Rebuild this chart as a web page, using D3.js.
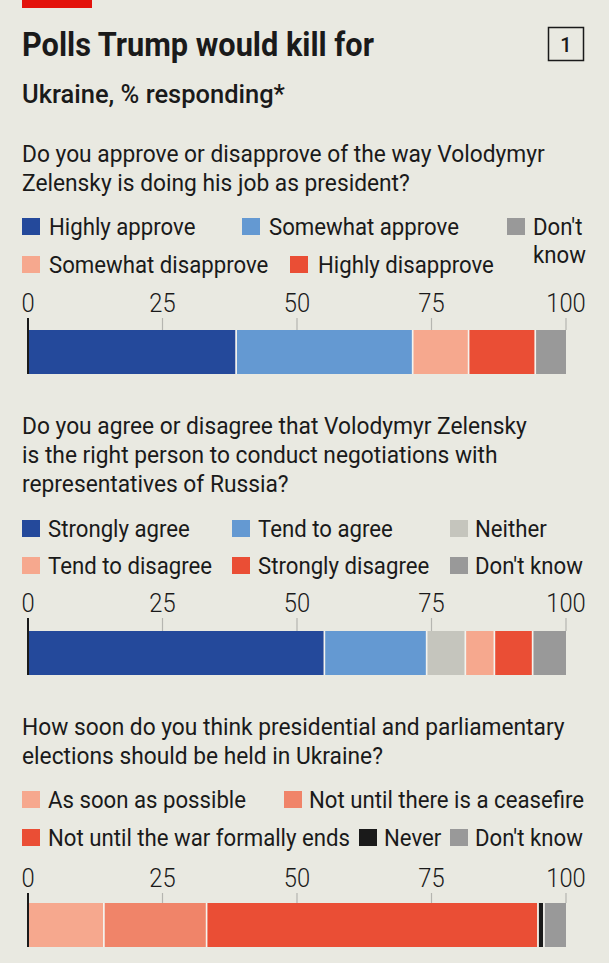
<!DOCTYPE html>
<html><head><meta charset="utf-8">
<script src="https://cdn.jsdelivr.net/npm/d3@7"></script>
<style>html,body{margin:0;padding:0;background:#e9e9e1;}svg{display:block;}</style>
</head><body>
<script>
// ---------- DATA ----------
const title = "Polls Trump would kill for";
const subtitle = "Ukraine, % responding*";
const chartNumber = "1";
const ticks = [0, 25, 50, 75, 100];

const q1Question = ["Do you approve or disapprove of the way Volodymyr", "Zelensky is doing his job as president?"];
const q1Categories = ["Highly approve", "Somewhat approve", "Somewhat disapprove", "Highly disapprove", "Don't know"];
const q1Values = [38.6, 32.8, 10.4, 12.4, 5.8];

const q2Question = ["Do you agree or disagree that Volodymyr Zelensky", "is the right person to conduct negotiations with", "representatives of Russia?"];
const q2Categories = ["Strongly agree", "Tend to agree", "Neither", "Tend to disagree", "Strongly disagree", "Don't know"];
const q2Values = [55.0, 19.0, 7.2, 5.4, 7.1, 6.3];

const q3Question = ["How soon do you think presidential and parliamentary", "elections should be held in Ukraine?"];
const q3Categories = ["As soon as possible", "Not until there is a ceasefire", "Not until the war formally ends", "Never", "Don't know"];
const q3Values = [14.0, 19.1, 61.6, 1.1, 4.2];

// ---------- STYLE ----------
const q1Colors = ["#24499b", "#6499d2", "#f6a88e", "#ea4e35", "#999999"];
const q2Colors = ["#24499b", "#6499d2", "#c5c5bd", "#f6a88e", "#ea4e35", "#999999"];
const q3Colors = ["#f6a88e", "#f08469", "#ea4e35", "#1a1a1a", "#999999"];

const W = 609, H = 963, BG = "#e9e9e1", INK = "#1a1a1a";
const FONT = "Roboto, 'Liberation Sans', sans-serif";

const svg = d3.select("body").append("svg").attr("width", W).attr("height", H);
svg.append("rect").attr("width", W).attr("height", H).attr("fill", BG);

function measure(str, size, weight) {
  const t = svg.append("text").attr("font-family", FONT).attr("font-size", size).attr("font-weight", weight).text(str);
  const w = t.node().getComputedTextLength(); t.remove(); return w;
}
const BODY = 24;
const cond = 523 / measure(q1Question[0], BODY, 400);
const legCond = cond * 0.975;
const titleCond = 352 / measure(title, 33, 700);
const subCond = 263 / measure(subtitle, 26, 500);

function txt(str, x, y, opt = {}) {
  const f = opt.f ?? cond;
  return svg.append("text")
    .attr("transform", `translate(${x},${y}) scale(${f},1)`)
    .attr("font-family", FONT)
    .attr("font-size", opt.size ?? BODY)
    .attr("font-weight", opt.weight ?? 400)
    .attr("text-anchor", opt.anchor ?? "start")
    .attr("fill", opt.fill ?? INK)
    .text(str);
}

// header
svg.append("rect").attr("x", 22).attr("y", 0).attr("width", 70).attr("height", 8).attr("fill", "#e3120b");
txt(title, 22, 56, {size: 33, weight: 700, f: titleCond});
svg.append("rect").attr("x", 548.5).attr("y", 27.5).attr("width", 35).attr("height", 33)
  .attr("fill", "none").attr("stroke", INK).attr("stroke-width", 1.5);
txt(chartNumber, 566, 52, {size: 21, anchor: "middle", weight: 500});
txt(subtitle, 22, 103, {size: 26, weight: 500, f: subCond});

const x = d3.scaleLinear().domain([0, 100]).range([28, 566]);

function panel(question, cats, vals, colors, L) {
  question.forEach((q, i) => txt(q, 22, L.q[i]));
  cats.forEach((c, i) => {
    const it = L.legend[i];
    svg.append("rect").attr("x", it[0]).attr("y", it[1] - 17).attr("width", 18).attr("height", 17).attr("fill", colors[i]);
    const lines = it[3] ? it[3] : [c];
    lines.forEach((ln, j) => txt(ln, it[2], it[1] + j * 28, {f: legCond}));
  });
  ticks.forEach(t => txt(String(t), x(t), L.axis, {anchor: "middle", size: 25, weight: 300}));
  ticks.filter(t => t > 0).forEach(t => {
    svg.append("line").attr("x1", x(t)).attr("x2", x(t)).attr("y1", L.axis + 6).attr("y2", L.bar)
      .attr("stroke", "#b5b5b0").attr("stroke-width", 1.2);
  });
  let acc = 0;
  const segs = vals.map((v, i) => { const s = {start: acc, end: acc + v, i}; acc += v; return s; });
  svg.selectAll(null).data(segs).enter().append("rect")
    .attr("x", d => x(d.start) + (d.i ? 1 : 0))
    .attr("y", L.bar)
    .attr("width", d => Math.max(0.5, x(d.end) - x(d.start) - (d.i ? 1 : 0)))
    .attr("height", 44)
    .attr("fill", d => colors[d.i]);
  svg.selectAll(null).data(segs.slice(1)).enter().append("line")
    .attr("x1", d => x(d.start) + 0.5).attr("x2", d => x(d.start) + 0.5)
    .attr("y1", L.bar).attr("y2", L.bar + 44)
    .attr("stroke", "#f4f3ee").attr("stroke-width", 1.6);
  svg.append("line").attr("x1", x(0)).attr("x2", x(0)).attr("y1", L.axis + 6).attr("y2", L.bar + 44)
    .attr("stroke", INK).attr("stroke-width", 2);
}

panel(q1Question, q1Categories, q1Values, q1Colors, {
  q: [162, 191], axis: 312, bar: 330,
  legend: [[22, 235, 49], [242, 235, 269], [22, 273, 49], [290, 273, 318], [507, 235, 533, ["Don't", "know"]]]
});
panel(q2Question, q2Categories, q2Values, q2Colors, {
  q: [434, 463, 492], axis: 612, bar: 631,
  legend: [[22, 537, 48], [232, 537, 258], [450, 537, 475], [22, 574, 48], [232, 574, 258], [450, 574, 475]]
});
panel(q3Question, q3Categories, q3Values, q3Colors, {
  q: [735, 764], axis: 887, bar: 903,
  legend: [[22, 808, 48], [284, 808, 309], [22, 846, 48], [359, 846, 384], [450, 846, 475]]
});
</script>
</body></html>
